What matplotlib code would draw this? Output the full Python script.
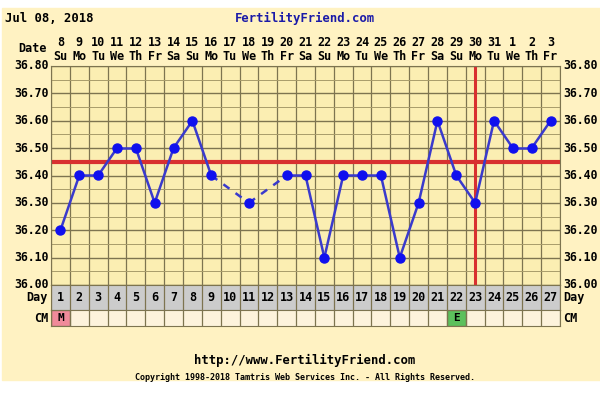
import matplotlib.pyplot as plt
import numpy as np

days = list(range(1, 28))
date_nums = ['8', '9', '10', '11', '12', '13', '14', '15', '16', '17', '18', '19', '20', '21',
             '22', '23', '24', '25', '26', '27', '28', '29', '30', '31', '1', '2', '3']
weekdays = ['Su', 'Mo', 'Tu', 'We', 'Th', 'Fr', 'Sa'] * 3 + ['Su', 'Mo', 'Tu', 'We', 'Th', 'Fr']
temps = [36.20, 36.40, 36.40, 36.50, 36.50, 36.30, 36.50, 36.60, 36.40, None,
         36.30, None, 36.40, 36.40, 36.10, 36.40, 36.40, 36.40, 36.10, 36.30,
         36.60, 36.40, 36.30, 36.60, 36.50, 36.50, 36.60]
cm = {1: 'M', 22: 'E'}
cm_colors = {'M': '#f08a9a', 'E': '#5cc05c'}
coverline = 36.45
ovulation_day = 23
yticks = [36.0, 36.1, 36.2, 36.3, 36.4, 36.5, 36.6, 36.7, 36.8]

mono = 'DejaVu Sans Mono'
bg = '#fff2c2'
plot_bg = '#fbeeb2'
grid_c = '#7d7450'

fig = plt.figure(figsize=(6, 3.96), dpi=100)
fig.patch.set_facecolor('white')
fig.patches.append(plt.Rectangle((0.004, 1 - 380 / 396), 0.996, (380 - 8) / 396,
                                 transform=fig.transFigure, color=bg, zorder=-10))

W, H = 600, 396
def frac(x0, y0, x1, y1):
    return [x0 / W, 1 - y1 / H, (x1 - x0) / W, (y1 - y0) / H]

ax = fig.add_axes(frac(51, 66, 560, 285))
ax.set_facecolor(plot_bg)
ax.set_xlim(0.5, 27.5)
ax.set_ylim(36.0, 36.8)
for x in np.arange(0.5, 28, 1):
    ax.axvline(x, color=grid_c, lw=0.9, zorder=1)
for y in np.arange(36.0, 36.81, 0.05):
    major = abs(round(y * 10) - y * 10) < 1e-6
    ax.axhline(y, color=grid_c if major else '#a89c6a', lw=1.0 if major else 0.7, zorder=1)
ax.set_xticks([])
ax.set_yticks([])
for s in ax.spines.values():
    s.set_color(grid_c)

# temperature line: solid between consecutive days, dashed across gaps
pts = [(d, t) for d, t in zip(days, temps) if t is not None]
for (d0, t0), (d1, t1) in zip(pts[:-1], pts[1:]):
    ls = '-' if d1 - d0 == 1 else (0, (3, 3))
    ax.plot([d0, d1], [t0, t1], color='#3a3acc', lw=1.8, ls=ls, zorder=3)
ax.plot([p[0] for p in pts], [p[1] for p in pts], 'o', color='#1010ee', ms=6.5, zorder=4)

ax.axhline(coverline, color='#d83030', lw=3, zorder=2)
ax.axvline(ovulation_day, color='#d83030', lw=2.2, zorder=2)

for y in yticks:
    ax.text(-0.004, y, f'{y:.2f}', transform=ax.get_yaxis_transform(), ha='right',
            va='center', family=mono, weight='bold', fontsize=8.3)
    ax.text(1.006, y, f'{y:.2f}', transform=ax.get_yaxis_transform(), ha='left',
            va='center', family=mono, weight='bold', fontsize=8.3)

for d, n, w in zip(days, date_nums, weekdays):
    ax.text(d, 36.8 + 0.085, n, ha='center', va='center', family=mono, weight='bold',
            fontsize=8.5, clip_on=False)
    ax.text(d, 36.8 + 0.035, w, ha='center', va='center', family=mono, weight='bold',
            fontsize=8.5, clip_on=False)
fig.text(47 / W, 1 - 48 / H, 'Date', ha='right', va='center', family=mono, weight='bold', fontsize=8.5)

# Day row
axd = fig.add_axes(frac(51, 285, 560, 310))
axd.set_facecolor('#cccccc')
axd.set_xlim(0.5, 27.5)
axd.set_ylim(0, 1)
for x in np.arange(0.5, 28, 1):
    axd.axvline(x, color=grid_c, lw=0.9)
for d in days:
    axd.text(d, 0.5, str(d), ha='center', va='center', family=mono, weight='bold', fontsize=8.5)
axd.set_xticks([])
axd.set_yticks([])
for s in axd.spines.values():
    s.set_color(grid_c)

# CM row
axc = fig.add_axes(frac(51, 310, 560, 326))
axc.set_facecolor('#fdf3dc')
axc.set_xlim(0.5, 27.5)
axc.set_ylim(0, 1)
for d, v in cm.items():
    axc.bar(d, 1, width=1, bottom=0, color=cm_colors[v], edgecolor=grid_c, lw=0.9)
    axc.text(d, 0.5, v, ha='center', va='center', family=mono, weight='bold', fontsize=8)
for x in np.arange(0.5, 28, 1):
    axc.axvline(x, color=grid_c, lw=0.9)
axc.set_xticks([])
axc.set_yticks([])
for s in axc.spines.values():
    s.set_color(grid_c)

for label, yy in [('Day', 298), ('CM', 318)]:
    fig.text(48 / W, 1 - yy / H, label, ha='right', va='center', family=mono, weight='bold', fontsize=8.5)
    fig.text(563 / W, 1 - yy / H, label, ha='left', va='center', family=mono, weight='bold', fontsize=8.5)

fig.text(5 / W, 1 - 18 / H, 'Jul 08, 2018', ha='left', va='center', family=mono, weight='bold', fontsize=8.8)
fig.text(305 / W, 1 - 18 / H, 'FertilityFriend.com', ha='center', va='center', family=mono,
         weight='bold', fontsize=8.8, color='#1a1aa8')
fig.text(305 / W, 1 - 360 / H, 'http://www.FertilityFriend.com', ha='center', va='center',
         family=mono, weight='bold', fontsize=8.8)
fig.text(305 / W, 1 - 377 / H, 'Copyright 1998-2018 Tamtris Web Services Inc. - All Rights Reserved.',
         ha='center', va='center', family=mono, weight='bold', fontsize=6.0)

fig.savefig('out.png', dpi=100, facecolor=fig.get_facecolor())
